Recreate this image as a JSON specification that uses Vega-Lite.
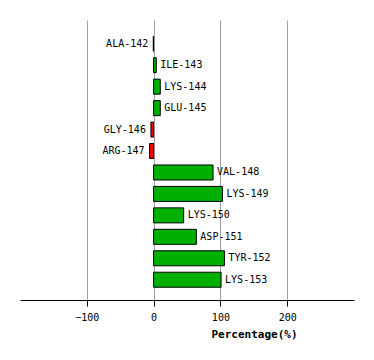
{
  "$schema": "https://vega.github.io/schema/vega-lite/v6.json",
  "autosize": "none",
  "width": 334,
  "height": 280,
  "padding": {"left": 20, "top": 20, "right": 20, "bottom": 60},
  "background": "white",
  "config": {"view": {"stroke": null}},
  "data": {"values": [
    {"res": "ALA-142", "v": -0.5},
    {"res": "ILE-143", "v": 4},
    {"res": "LYS-144", "v": 10},
    {"res": "GLU-145", "v": 10},
    {"res": "GLY-146", "v": -4},
    {"res": "ARG-147", "v": -6},
    {"res": "VAL-148", "v": 89},
    {"res": "LYS-149", "v": 103},
    {"res": "LYS-150", "v": 45},
    {"res": "ASP-151", "v": 64},
    {"res": "TYR-152", "v": 106},
    {"res": "LYS-153", "v": 101}
  ]},
  "encoding": {
    "y": {"field": "res", "type": "nominal", "sort": null,
      "scale": {"paddingInner": 0.3, "paddingOuter": 0.676, "align": 0.56},
      "axis": null},
    "x": {"field": "v", "type": "quantitative",
      "scale": {"domain": [-200, 300], "nice": false, "zero": false},
      "axis": {
        "values": [-100, 0, 100, 200],
        "title": "Percentage(%)",
        "titleFont": "DejaVu Sans Mono", "titleFontSize": 11, "titleFontWeight": "bold",
        "titleColor": "black", "titleX": 234, "titleY": 34, "titleAlign": "center", "titleBaseline": "middle",
        "labelFont": "DejaVu Sans Mono", "labelFontSize": 10, "labelColor": "black",
        "labelPadding": 6, "labelFlush": false,
        "domainColor": "black", "domainWidth": 1,
        "tickColor": "black", "tickSize": 6,
        "grid": true, "gridColor": "#a0a0a0", "gridWidth": 1
      }}
  },
  "layer": [
    {"mark": {"type": "bar", "stroke": "black", "strokeWidth": 1},
     "encoding": {
       "color": {"condition": {"test": "datum.v < 0", "value": "#ff0000"}, "value": "#00b000"}
     }},
    {"transform": [{"filter": "datum.v >= 0"}],
     "mark": {"type": "text", "align": "left", "baseline": "middle", "dx": 4, "font": "DejaVu Sans Mono", "fontSize": 10, "color": "black"},
     "encoding": {"text": {"field": "res"}}},
    {"transform": [{"filter": "datum.v < 0"}],
     "mark": {"type": "text", "align": "right", "baseline": "middle", "dx": -5, "font": "DejaVu Sans Mono", "fontSize": 10, "color": "black"},
     "encoding": {"text": {"field": "res"}}}
  ]
}
